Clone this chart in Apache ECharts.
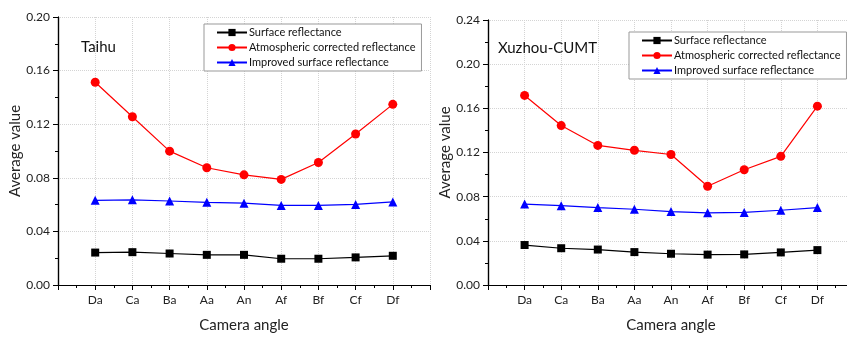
<!DOCTYPE html>
<html>
<head>
<meta charset="utf-8">
<script src="https://cdn.jsdelivr.net/npm/echarts@6/dist/echarts.min.js"></script>
<style>
  html, body { margin: 0; padding: 0; background: #fff; overflow: hidden; }
  #chart { width: 860px; height: 338px; }
</style>
</head>
<body>
<div id="chart"></div>
<script>
const angles = ['Da', 'Ca', 'Ba', 'Aa', 'An', 'Af', 'Bf', 'Cf', 'Df'];
const seriesNames = ['Surface reflectance', 'Atmospheric corrected reflectance', 'Improved surface reflectance'];

const taihuSurface = [0.0242, 0.0245, 0.0235, 0.0225, 0.0225, 0.0196, 0.0196, 0.0206, 0.0218];
const taihuAtmos = [0.1513, 0.1256, 0.0999, 0.0875, 0.0822, 0.0788, 0.0914, 0.1127, 0.1348];
const taihuImproved = [0.0632, 0.0636, 0.0627, 0.0617, 0.0611, 0.0594, 0.0594, 0.0601, 0.0620];

const xuzhouSurface = [0.0362, 0.0333, 0.0321, 0.0298, 0.0283, 0.0275, 0.0277, 0.0295, 0.0316];
const xuzhouAtmos = [0.1717, 0.1444, 0.1264, 0.1220, 0.1182, 0.0894, 0.1044, 0.1165, 0.1620];
const xuzhouImproved = [0.0733, 0.0718, 0.0701, 0.0686, 0.0665, 0.0654, 0.0657, 0.0677, 0.0701];

const FONT = 'Lato';
const toPoints = (vals) => vals.map((v, i) => [i + 1, v]);

const chart = echarts.init(document.getElementById('chart'));

function xAxes(grid) {
  const base = {
    gridIndex: grid,
    type: 'value',
    min: 0,
    max: 10,
    interval: 1,
    axisLine: { lineStyle: { color: '#000', width: 1.2 } },
    splitLine: { show: false },
  };
  return [
    {
      ...base,
      position: 'bottom',
      name: 'Camera angle',
      nameLocation: 'middle',
      nameGap: 33,
      nameTextStyle: { color: '#222', fontSize: 15, fontFamily: FONT },
      axisTick: { length: 5, lineStyle: { color: '#000' } },
      minorTick: { show: true, splitNumber: 2, length: 3, lineStyle: { color: '#000' } },
      axisLabel: {
        color: '#222', fontSize: 12, fontFamily: FONT, margin: 9,
        formatter: (v) => angles[v - 1] || '',
      },
      splitLine: { show: true, lineStyle: { color: '#d4d4d4', type: 'dotted' } },
    },
    {
      ...base,
      position: 'top',
      axisTick: { inside: true, length: 5, lineStyle: { color: '#000' } },
      minorTick: { show: true, splitNumber: 2, length: 3, lineStyle: { color: '#000' } },
      axisLabel: { show: false },
    },
  ];
}

function yAxes(grid, max) {
  const base = {
    gridIndex: grid,
    type: 'value',
    min: 0,
    max: max,
    interval: 0.04,
    axisLine: { show: true, lineStyle: { color: '#000', width: 1.2 } },
    splitLine: { show: false },
  };
  return [
    {
      ...base,
      position: 'left',
      name: 'Average value',
      nameLocation: 'middle',
      nameGap: 32,
      nameTextStyle: { color: '#222', fontSize: 15, fontFamily: FONT },
      axisTick: { length: 5, lineStyle: { color: '#000' } },
      minorTick: { show: true, splitNumber: 2, length: 3, lineStyle: { color: '#000' } },
      axisLabel: { color: '#222', fontSize: 12, fontFamily: FONT, margin: 8, formatter: (v) => v.toFixed(2) },
      splitLine: { show: true, lineStyle: { color: '#d4d4d4', type: 'dotted' } },
    },
    {
      ...base,
      position: 'right',
      axisTick: { inside: true, length: 5, lineStyle: { color: '#000' } },
      minorTick: { show: true, splitNumber: 2, length: 3, lineStyle: { color: '#000' } },
      axisLabel: { show: false },
    },
  ];
}

function lineSeries(name, vals, axisIdx, color, symbol, size) {
  return {
    name: name,
    type: 'line',
    xAxisIndex: axisIdx,
    yAxisIndex: axisIdx,
    data: toPoints(vals),
    symbol: symbol,
    symbolSize: size,
    lineStyle: { color: color, width: 1.2 },
    itemStyle: { color: color },
    z: 3,
  };
}

function legend(left, top) {
  return {
    left: left,
    top: top,
    orient: 'vertical',
    data: seriesNames,
    backgroundColor: '#fff',
    borderColor: '#999',
    borderWidth: 1,
    borderRadius: 0,
    padding: [3, 6, 3, 12],
    itemWidth: 30,
    itemHeight: 9,
    itemGap: 4,
    selectedMode: false,
    textStyle: { color: '#111', fontSize: 11, fontFamily: FONT, padding: [0, 0, 0, -3] },
  };
}

chart.setOption({
  animation: false,
  backgroundColor: '#fff',
  title: [
    { text: 'Taihu', left: 76, top: 35, textStyle: { color: '#111', fontSize: 15, fontWeight: 'normal', fontFamily: FONT } },
    { text: 'Xuzhou-CUMT', left: 493, top: 36, textStyle: { color: '#111', fontSize: 15, fontWeight: 'normal', fontFamily: FONT } },
  ],
  legend: [legend(204, 24), legend(629, 32)],
  grid: [
    { left: 58, top: 17, width: 372, height: 275 },
    { left: 488, top: 20, width: 366, height: 272 },
  ],
  xAxis: [...xAxes(0), ...xAxes(1)],
  yAxis: [...yAxes(0, 0.2), ...yAxes(1, 0.24)],
  series: [
    lineSeries(seriesNames[0], taihuSurface, 0, '#000', 'rect', 8),
    lineSeries(seriesNames[1], taihuAtmos, 0, '#ff0000', 'circle', 9),
    lineSeries(seriesNames[2], taihuImproved, 0, '#0000ff', 'triangle', 9),
    lineSeries(seriesNames[0], xuzhouSurface, 2, '#000', 'rect', 8),
    lineSeries(seriesNames[1], xuzhouAtmos, 2, '#ff0000', 'circle', 9),
    lineSeries(seriesNames[2], xuzhouImproved, 2, '#0000ff', 'triangle', 9),
  ],
});
</script>
</body>
</html>
